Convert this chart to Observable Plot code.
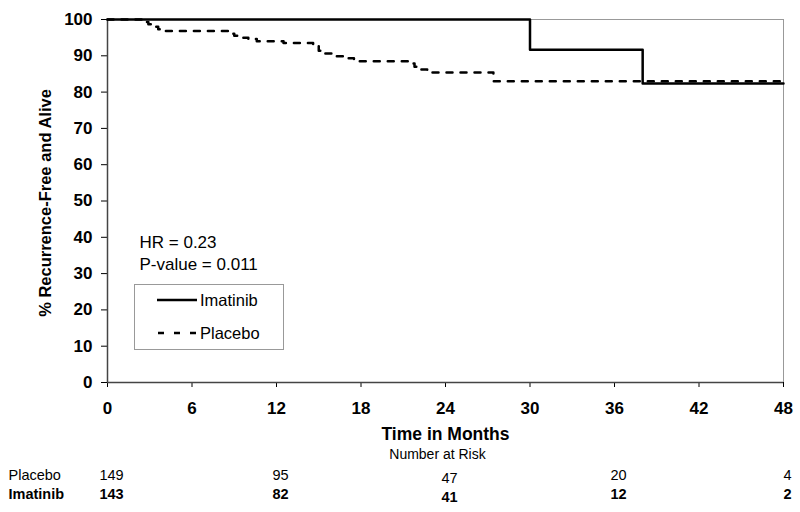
<!DOCTYPE html>
<html><head><meta charset="utf-8">
<script src="https://cdn.jsdelivr.net/npm/d3@7"></script>
<script src="https://cdn.jsdelivr.net/npm/@observablehq/plot@0.6"></script>
<style>body{margin:0;background:#fff;} svg{display:block}</style>
</head><body><div id="chart"></div>
<script>
// Kaplan-Meier step data (months, % recurrence-free and alive)
const placeboTime = [0, 2.6, 2.9, 3.2, 3.6, 4.1, 8.7, 9.0, 9.4, 10.0, 10.6, 12.5, 14.6, 15.0, 15.4, 16.0, 17.0, 17.5, 21.4, 21.8, 22.2, 22.7, 27.4, 48];
const placeboSurv = [100, 99.3, 98.7, 98.0, 97.3, 96.8, 96.1, 95.5, 95.0, 94.6, 94.0, 93.5, 92.9, 91.4, 90.6, 89.9, 89.3, 88.5, 87.9, 87.0, 86.2, 85.4, 83.0, 83.0];
const imatinibTime = [0, 30, 38, 48];
const imatinibSurv = [100, 91.7, 82.4, 82.4];

const xTicks = [0, 6, 12, 18, 24, 30, 36, 42, 48];
const yTicks = [0, 10, 20, 30, 40, 50, 60, 70, 80, 90, 100];

const riskTimes = [0, 12, 24, 36, 48];
const placeboRisk = [149, 95, 47, 20, 4];
const imatinibRisk = [143, 82, 41, 12, 2];

const seriesNames = ["Imatinib", "Placebo"];
const statsText = ["HR = 0.23", "P-value = 0.011"];

const placebo = placeboTime.map((t, i) => ({t, s: placeboSurv[i]}));
const imatinib = imatinibTime.map((t, i) => ({t, s: imatinibSurv[i]}));
const riskP = riskTimes.map((t, i) => ({t, n: placeboRisk[i]}));
const riskI = riskTimes.map((t, i) => ({t, n: imatinibRisk[i]}));
const midOnly = d => d.t === 24;
const notMid = d => d.t !== 24;

const font = "'Liberation Sans', Arial, Helvetica, sans-serif";

const chart = Plot.plot({
  width: 800, height: 512,
  marginTop: 19, marginBottom: 130, marginLeft: 107, marginRight: 17,
  style: {fontFamily: font, background: "#fff", color: "#000", overflow: "visible"},
  x: {domain: [0, 48]},
  y: {domain: [0, 100]},
  marks: [
    Plot.frame({stroke: "#999", strokeWidth: 1}),
    Plot.axisY({ticks: yTicks, tickSize: 6, tickPadding: 9, fontSize: 17, fontWeight: "bold", label: null}),
    Plot.axisX({ticks: xTicks, tickSize: 5, tickPadding: 14, fontSize: 17, fontWeight: "bold", label: null}),
    Plot.ruleX([0], {stroke: "#444", strokeWidth: 1.5}),
    Plot.ruleY([0], {stroke: "#444", strokeWidth: 1.5}),
    Plot.line(placebo, {x: "t", y: "s", curve: "step-after", stroke: "#000", strokeWidth: 2.5, strokeDasharray: "6,8"}),
    Plot.line(imatinib, {x: "t", y: "s", curve: "step-after", stroke: "#000", strokeWidth: 2.5}),
    // y-axis title
    Plot.text(["% Recurrence-Free and Alive"], {frameAnchor: "left", dx: -62, dy: 2, rotate: -90, text: d => d, fontSize: 16.5, fontWeight: "bold", textAnchor: "middle"}),
    // x-axis title
    Plot.text(["Time in Months"], {frameAnchor: "bottom", dy: 57, text: d => d, fontSize: 17.5, fontWeight: "bold"}),
    Plot.text(["Number at Risk"], {frameAnchor: "bottom", dx: -8, dy: 76, text: d => d, fontSize: 14}),
    // stats text
    Plot.text([statsText[0]], {frameAnchor: "left", dx: 32, y: () => 38.5, text: d => d, fontSize: 17, textAnchor: "start"}),
    Plot.text([statsText[1]], {frameAnchor: "left", dx: 32, y: () => 32.5, text: d => d, fontSize: 17, textAnchor: "start"}),
    // risk table
    Plot.text(["Placebo"], {frameAnchor: "bottom-left", dx: -99, dy: 97, text: d => d, fontSize: 14.5, textAnchor: "start"}),
    Plot.text(["Imatinib"], {frameAnchor: "bottom-left", dx: -99, dy: 116, text: d => d, fontSize: 14.5, fontWeight: "bold", textAnchor: "start"}),
    Plot.text(riskP.filter(notMid), {x: "t", frameAnchor: "bottom", dx: 4, dy: 97, text: "n", fontSize: 14.5}),
    Plot.text(riskP.filter(midOnly), {x: "t", frameAnchor: "bottom", dx: 4, dy: 100, text: "n", fontSize: 14.5}),
    Plot.text(riskI.filter(notMid), {x: "t", frameAnchor: "bottom", dx: 4, dy: 116, text: "n", fontSize: 14.5, fontWeight: "bold"}),
    Plot.text(riskI.filter(midOnly), {x: "t", frameAnchor: "bottom", dx: 4, dy: 119, text: "n", fontSize: 14.5, fontWeight: "bold"})
  ]
});

// Legend box
const svg = d3.select(chart);
const lg = svg.append("g").attr("font-family", font).style("font-size", "16.5px").attr("text-anchor", "start");
lg.append("rect").attr("x", 134.5).attr("y", 284.5).attr("width", 149).attr("height", 65)
  .attr("fill", "#fff").attr("stroke", "#999").attr("stroke-width", 1);
lg.append("line").attr("x1", 157).attr("x2", 197).attr("y1", 300).attr("y2", 300)
  .attr("stroke", "#000").attr("stroke-width", 2.5);
lg.append("line").attr("x1", 158).attr("x2", 196).attr("y1", 333).attr("y2", 333)
  .attr("stroke", "#000").attr("stroke-width", 2.5).attr("stroke-dasharray", "6,10");
lg.append("text").attr("x", 200).attr("y", 300).attr("dy", "0.35em").attr("text-anchor", "start").text(seriesNames[0]);
lg.append("text").attr("x", 200).attr("y", 333).attr("dy", "0.35em").attr("text-anchor", "start").text(seriesNames[1]);

document.getElementById("chart").appendChild(chart);
</script>
</body></html>
